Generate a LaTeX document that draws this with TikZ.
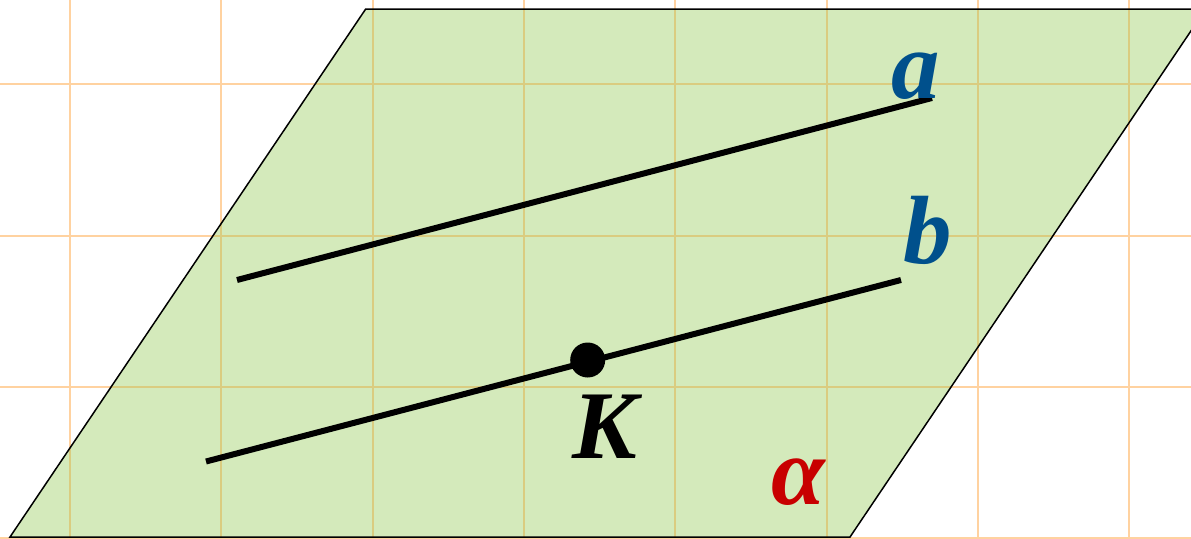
\documentclass[tikz,border=0pt]{standalone}
\usepackage{fontspec}
\setmainfont{Liberation Serif}
\definecolor{planegreen}{RGB}{212,234,187}
\definecolor{gridorange}{RGB}{255,210,160}
\definecolor{gridtan}{RGB}{218,204,128}
\definecolor{labblue}{RGB}{0,80,140}
\definecolor{labred}{RGB}{200,0,0}
\begin{document}
\begin{tikzpicture}[x=1pt,y=-1pt,
  gridline/.style={gridorange,line width=2pt},
  gridin/.style={gridtan,line width=2pt},
  planeedge/.style={black,line width=1.5pt,line join=miter},
  thickline/.style={black,line width=6pt},
  lab/.style={font=\fontsize{97}{97}\selectfont\bfseries\itshape,inner sep=0pt,anchor=base},
  dot/.style={circle,fill=black,inner sep=0pt,minimum size=35pt}]
\useasboundingbox (0,0) rectangle (1191,538);
\clip (0,0) rectangle (1191,538);
\fill[white] (0,0) rectangle (1191,538);
% outer grid
\foreach \i in {0,...,7} \draw[gridline] ({70+151.3*\i},0) -- ({70+151.3*\i},538);
\foreach \j in {0,...,3} \draw[gridline] (0,{84.3+151.3*\j}) -- (1191,{84.3+151.3*\j});
% plane
\coordinate (P1) at (10,537);
\coordinate (P2) at (365.7,9);
\coordinate (P3) at (1205.7,9);
\coordinate (P4) at (850,537);
\fill[planegreen] (P1) -- (P2) -- (P3) -- (P4) -- cycle;
\begin{scope}
\clip (P1) -- (P2) -- (P3) -- (P4) -- cycle;
\foreach \i in {0,...,7} \draw[gridin] ({70+151.3*\i},0) -- ({70+151.3*\i},538);
\foreach \j in {0,...,3} \draw[gridin] (0,{84.3+151.3*\j}) -- (1191,{84.3+151.3*\j});
\end{scope}
\draw[planeedge] (P1) -- (P2) -- (P3) -- (P4) -- cycle;
% lines
\coordinate (A1) at (237,280);
\coordinate (A2) at (932,98);
\coordinate (B1) at (206,461.5);
\coordinate (B2) at (901,280);
\draw[thickline] (A1) -- (A2);
\draw[thickline] (B1) -- (B2);
\node[dot] (K) at (587.7,360) {};
% labels
\node[lab,text=labblue] (la) at (916,98) {a};
\node[lab,text=labblue] (lb) at (928,263) {b};
\node[lab,text=black] (lk) at (605,458) {K};
\node[lab,text=labred] (lal) at (798,504) {α};
\end{tikzpicture}
\end{document}
